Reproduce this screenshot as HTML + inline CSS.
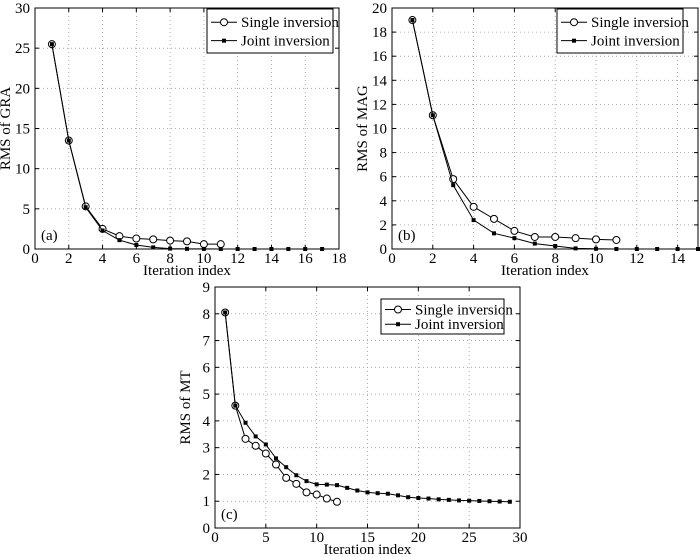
<!DOCTYPE html>
<html><head><meta charset="utf-8">
<style>
html,body{margin:0;padding:0;background:#fff;}
svg{display:block;}
svg text{font-family:"Liberation Serif","Times New Roman",serif;}
</style></head>
<body>
<svg id="fig" width="700" height="557" viewBox="0 0 700 557"></svg>
<script>
const aCategories=[1,2,3,4,5,6,7,8,9,10,11,12,13,14,15,16,17];
const aSingle=[25.5,13.5,5.3,2.5,1.6,1.3,1.2,1.05,0.95,0.6,0.6];
const aJoint=[25.5,13.5,5.2,2.3,1.1,0.5,0.2,0.05,0.02,0.01,0,0,0,0,0,0,0];
const aXTicks=[0,2,4,6,8,10,12,14,16,18];
const aYTicks=[0,5,10,15,20,25,30];
const bCategories=[1,2,3,4,5,6,7,8,9,10,11,12,13,14,15];
const bSingle=[19,11.1,5.8,3.5,2.5,1.5,1.0,1.0,0.9,0.8,0.75];
const bJoint=[19,11.1,5.3,2.4,1.3,0.9,0.45,0.25,0.05,0.02,0,0,0,0,0];
const bXTicks=[0,2,4,6,8,10,12,14];
const bYTicks=[0,2,4,6,8,10,12,14,16,18,20];
const cCategories=[1,2,3,4,5,6,7,8,9,10,11,12,13,14,15,16,17,18,19,20,21,22,23,24,25,26,27,28,29];
const cSingle=[8.05,4.57,3.33,3.07,2.78,2.37,1.87,1.65,1.33,1.25,1.1,0.98];
const cJoint=[8.05,4.57,3.93,3.42,3.12,2.6,2.27,1.97,1.75,1.63,1.62,1.6,1.5,1.4,1.33,1.3,1.28,1.22,1.15,1.12,1.1,1.07,1.05,1.03,1.02,1.01,1.0,0.99,0.98];
const cXTicks=[0,5,10,15,20,25,30];
const cYTicks=[0,1,2,3,4,5,6,7,8,9];

const NS="http://www.w3.org/2000/svg";
const svg=document.getElementById('fig');
const FF='"Liberation Serif", "Times New Roman", serif';
function mk(tag,attrs,parent,text){const e=document.createElementNS(NS,tag);for(const k in attrs)e.setAttribute(k,attrs[k]);if(text!==undefined){e.textContent=text;e.setAttribute('font-family',FF);}(parent||svg).appendChild(e);return e;}

function panel(id,box,xr,yr,xt,yt,cats,single,joint,ylabel,tag,leg){
  const g=mk('g',{});
  
  
  const sx=v=>box.x0+(v-xr[0])/(xr[1]-xr[0])*(box.x1-box.x0);
  const sy=v=>box.y1-(v-yr[0])/(yr[1]-yr[0])*(box.y1-box.y0);
  xt.forEach(t=>{if(t>xr[0]&&t<xr[1]){const l=mk('line',{x1:sx(t),x2:sx(t),y1:box.y0,y2:box.y1,stroke:'#999','stroke-width':0.8,'stroke-dasharray':'1,3'},g);}});
  yt.forEach(t=>{if(t>yr[0]&&t<yr[1]){const l=mk('line',{x1:box.x0,x2:box.x1,y1:sy(t),y2:sy(t),stroke:'#999','stroke-width':0.8,'stroke-dasharray':'1,3'},g);}});
  const fr=mk('rect',{x:box.x0,y:box.y0,width:box.x1-box.x0,height:box.y1-box.y0,fill:'none',stroke:'#000','stroke-width':1},g);
  
  xt.forEach(t=>{const x=sx(t);mk('line',{x1:x,x2:x,y1:box.y1,y2:box.y1-4,stroke:'#000'},g);mk('line',{x1:x,x2:x,y1:box.y0,y2:box.y0+4,stroke:'#000'},g);
    const tx=mk('text',{x:x,y:box.y1+14,'text-anchor':'middle','font-size':15},g,String(t));});
  yt.forEach(t=>{const y=sy(t);mk('line',{x1:box.x0,x2:box.x0+4,y1:y,y2:y,stroke:'#000'},g);mk('line',{x1:box.x1,x2:box.x1-4,y1:y,y2:y,stroke:'#000'},g);
    const tx=mk('text',{x:box.x0-5,y:y+5,'text-anchor':'end','font-size':15},g,String(t));});
  const xl=mk('text',{x:(box.x0+box.x1)/2,y:box.y1+26,'text-anchor':'middle','font-size':15},g,'Iteration index');
  
  const yx=box.x0-25,yy=(box.y0+box.y1)/2;
  const yl=mk('text',{x:yx,y:yy,'text-anchor':'middle','font-size':15,transform:`rotate(-90 ${yx} ${yy})`},g,ylabel);
  
  const tg=mk('text',{x:box.x0+6,y:box.y1-9,'font-size':15},g,tag);
  
  function series(vals,name,marker){
    const pts=vals.map((v,i)=>[sx(cats[i]),sy(v)]);
    const pl=mk('polyline',{points:pts.map(p=>p.join(',')).join(' '),fill:'none',stroke:'#000','stroke-width':1},g);
    
    pts.forEach(p=>{let m;
      if(marker==='o'){m=mk('circle',{cx:p[0],cy:p[1],r:3.5,fill:'#fff',stroke:'#000','stroke-width':1},g);}
      else{m=mk('rect',{x:p[0]-2,y:p[1]-2,width:4,height:4,fill:'#000'},g);}
      });
  }
  series(single,'single-inversion','o');
  series(joint,'joint-inversion','*');
  const lg=mk('g',{},g);
  mk('rect',{x:leg.x,y:leg.y,width:leg.w,height:leg.h,fill:'#fff',stroke:'#000'},lg);
  const r1=leg.y+leg.h*0.3,r2=leg.y+leg.h*0.72;
  const e1=mk('g',{},lg);
  mk('line',{x1:leg.x+4,x2:leg.x+30,y1:r1,y2:r1,stroke:'#000'},e1);
  mk('circle',{cx:leg.x+17,cy:r1,r:3.5,fill:'#fff',stroke:'#000'},e1);
  mk('text',{x:leg.x+34,y:r1+5,'font-size':15},e1,'Single inversion');
  const e2=mk('g',{},lg);
  mk('line',{x1:leg.x+4,x2:leg.x+30,y1:r2,y2:r2,stroke:'#000'},e2);
  mk('rect',{x:leg.x+15,y:r2-2,width:4,height:4,fill:'#000'},e2);
  mk('text',{x:leg.x+34,y:r2+5,'font-size':15},e2,'Joint inversion');
}
panel('a',{x0:35,x1:339,y0:8,y1:249},[0,18],[0,30],aXTicks,aYTicks,aCategories,aSingle,aJoint,'RMS of GRA','(a)',{x:207,y:9,w:126,h:44});
panel('b',{x0:392,x1:698,y0:8,y1:249},[0,15],[0,20],bXTicks,bYTicks,bCategories,bSingle,bJoint,'RMS of MAG','(b)',{x:557,y:9,w:126,h:44});
panel('c',{x0:215,x1:520,y0:287,y1:528},[0,30],[0,9],cXTicks,cYTicks,cCategories,cSingle,cJoint,'RMS of MT','(c)',{x:381,y:299,w:123,h:35});
</script>
</body></html>
